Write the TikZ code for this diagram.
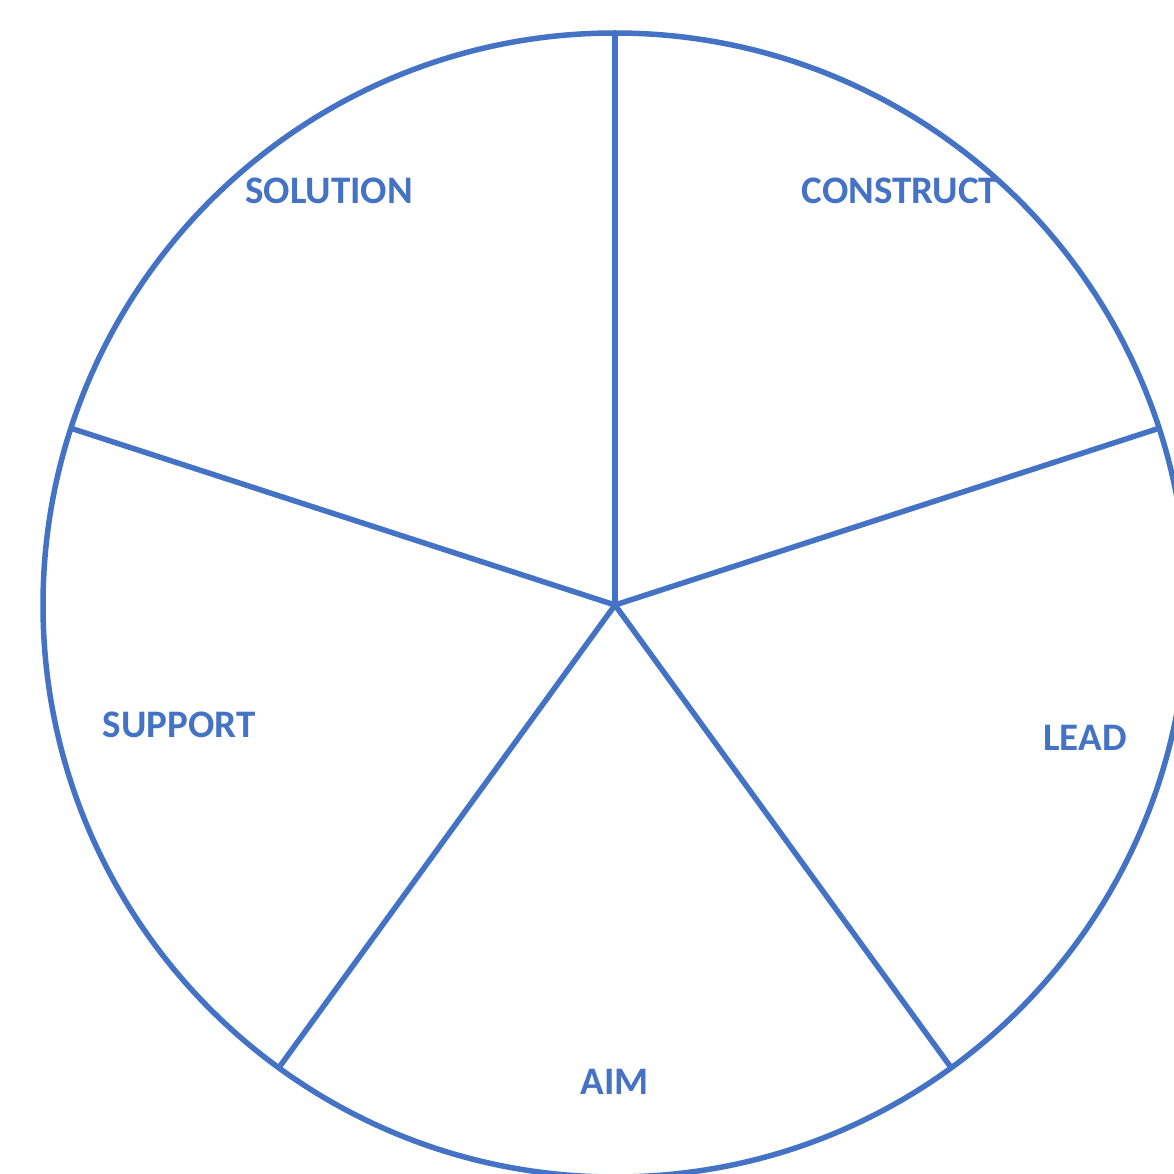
\documentclass[tikz,border=0pt]{standalone}
\usepackage{fontspec}
\setmainfont{Carlito}
\definecolor{wheelblue}{HTML}{4472C4}

\tikzstyle{wheel} = [circle, draw=wheelblue, line width=5.5pt, inner sep=0pt, outer sep=0pt, minimum size=1144pt]
\tikzstyle{spoke} = [draw=wheelblue, line width=5.5pt]
\tikzstyle{label} = [text=wheelblue, font=\fontsize{39}{42}\selectfont\bfseries, inner sep=0pt]

\begin{document}
\begin{tikzpicture}[x=1pt, y=-1pt]
		\useasboundingbox (0,0) rectangle (1173,1174);
		\node [wheel] (Wheel) at (615,605) {};
		
		\foreach \a in {90,18,-54,-126,162}
			\path [spoke] (Wheel.center) -- (Wheel.\a);
		
		\node [label] (Solution) at (329,191) {SOLUTION};
		\node [label] (Construct) at (900,191) {CONSTRUCT};
		\node [label] (Support) at (179,725) {SUPPORT};
		\node [label] (Lead) at (1085,738) {LEAD};
		\node [label] (Aim) at (615,1082) {AIM};
	\end{tikzpicture}
\end{document}
